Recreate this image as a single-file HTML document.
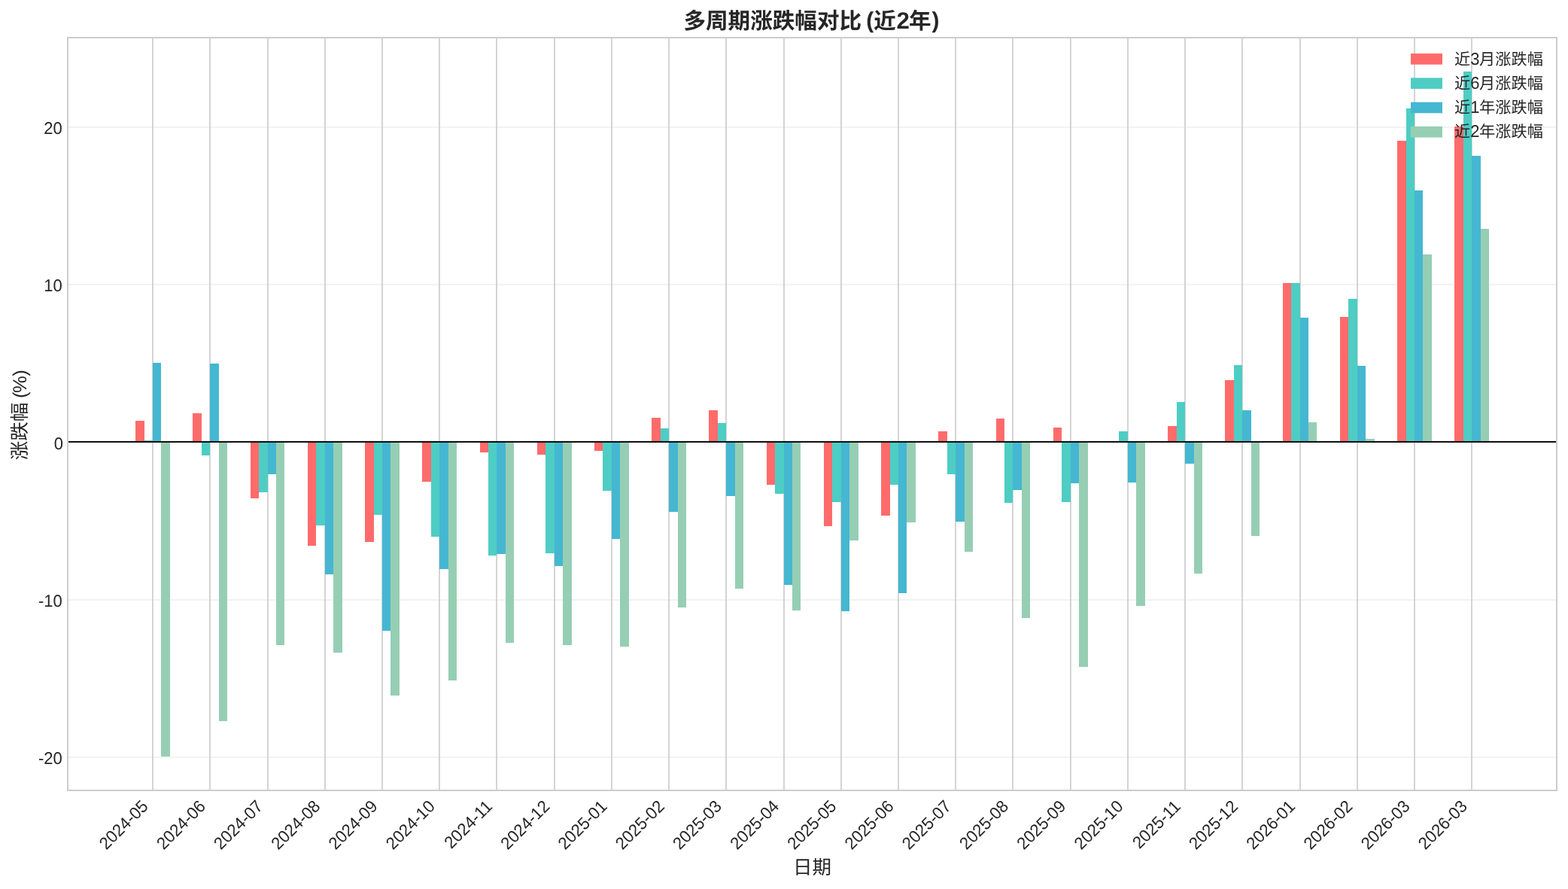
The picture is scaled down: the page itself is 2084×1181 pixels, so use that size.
<!DOCTYPE html>
<html lang="zh"><head><meta charset="utf-8"><title>多周期涨跌幅对比 (近2年)</title>
<style>html,body{margin:0;padding:0;background:#fff}body{width:2084px;height:1181px;overflow:hidden}svg{display:block;will-change:transform}text{font-family:"Liberation Sans","Noto Sans CJK SC",sans-serif;fill:#262626;text-rendering:geometricPrecision}</style>
</head><body>
<svg width="2084" height="1181" viewBox="0 0 2084 1181" role="img" aria-label="多周期涨跌幅对比 (近2年)">
<rect width="2084" height="1181" fill="#fff"/>
<g fill="#d4d4d4">
<rect x="202" y="50" width="2" height="1000"/>
<rect x="278" y="50" width="2" height="1000"/>
<rect x="355" y="50" width="2" height="1000"/>
<rect x="431" y="50" width="2" height="1000"/>
<rect x="507" y="50" width="2" height="1000"/>
<rect x="583" y="50" width="2" height="1000"/>
<rect x="659" y="50" width="2" height="1000"/>
<rect x="736" y="50" width="2" height="1000"/>
<rect x="812" y="50" width="2" height="1000"/>
<rect x="888" y="50" width="2" height="1000"/>
<rect x="964" y="50" width="2" height="1000"/>
<rect x="1041" y="50" width="2" height="1000"/>
<rect x="1117" y="50" width="2" height="1000"/>
<rect x="1193" y="50" width="2" height="1000"/>
<rect x="1269" y="50" width="2" height="1000"/>
<rect x="1345" y="50" width="2" height="1000"/>
<rect x="1422" y="50" width="2" height="1000"/>
<rect x="1498" y="50" width="2" height="1000"/>
<rect x="1574" y="50" width="2" height="1000"/>
<rect x="1650" y="50" width="2" height="1000"/>
<rect x="1727" y="50" width="2" height="1000"/>
<rect x="1803" y="50" width="2" height="1000"/>
<rect x="1879" y="50" width="2" height="1000"/>
<rect x="1955" y="50" width="2" height="1000"/>
</g>
<g fill="#cccccc" fill-opacity="0.25">
<rect x="90" y="168" width="1979" height="2"/>
<rect x="90" y="377" width="1979" height="2"/>
<rect x="90" y="796" width="1979" height="2"/>
<rect x="90" y="1005" width="1979" height="2"/>
</g>
<g fill="#FF6B6B">
<rect x="180" y="559" width="12" height="28"/>
<rect x="256" y="549" width="12" height="38"/>
<rect x="333" y="587" width="11" height="75"/>
<rect x="409" y="587" width="11" height="138"/>
<rect x="485" y="587" width="12" height="133"/>
<rect x="561" y="587" width="12" height="53"/>
<rect x="638" y="587" width="11" height="14"/>
<rect x="714" y="587" width="11" height="17"/>
<rect x="790" y="587" width="11" height="12"/>
<rect x="866" y="555" width="12" height="32"/>
<rect x="942" y="545" width="12" height="42"/>
<rect x="1019" y="587" width="11" height="57"/>
<rect x="1095" y="587" width="11" height="112"/>
<rect x="1171" y="587" width="12" height="98"/>
<rect x="1247" y="573" width="12" height="14"/>
<rect x="1324" y="556" width="11" height="31"/>
<rect x="1400" y="568" width="11" height="19"/>
<rect x="1552" y="566" width="12" height="21"/>
<rect x="1628" y="505" width="12" height="82"/>
<rect x="1705" y="376" width="11" height="211"/>
<rect x="1781" y="421" width="11" height="166"/>
<rect x="1857" y="187" width="12" height="400"/>
<rect x="1933" y="168" width="12" height="419"/>
</g>
<g fill="#4ECDC4">
<rect x="192" y="585" width="11" height="2"/>
<rect x="268" y="587" width="11" height="18"/>
<rect x="344" y="587" width="12" height="67"/>
<rect x="420" y="587" width="12" height="111"/>
<rect x="497" y="587" width="11" height="97"/>
<rect x="573" y="587" width="11" height="126"/>
<rect x="649" y="587" width="11" height="151"/>
<rect x="725" y="587" width="12" height="148"/>
<rect x="801" y="587" width="12" height="65"/>
<rect x="878" y="569" width="11" height="18"/>
<rect x="954" y="562" width="11" height="25"/>
<rect x="1030" y="587" width="12" height="69"/>
<rect x="1106" y="587" width="12" height="80"/>
<rect x="1183" y="587" width="11" height="57"/>
<rect x="1259" y="587" width="11" height="43"/>
<rect x="1335" y="587" width="11" height="81"/>
<rect x="1411" y="587" width="12" height="80"/>
<rect x="1487" y="573" width="12" height="14"/>
<rect x="1564" y="534" width="11" height="53"/>
<rect x="1640" y="485" width="11" height="102"/>
<rect x="1716" y="376" width="12" height="211"/>
<rect x="1792" y="397" width="12" height="190"/>
<rect x="1869" y="144" width="11" height="443"/>
<rect x="1945" y="95" width="11" height="492"/>
</g>
<g fill="#45B7D1">
<rect x="203" y="482" width="11" height="105"/>
<rect x="279" y="483" width="12" height="104"/>
<rect x="356" y="587" width="11" height="43"/>
<rect x="432" y="587" width="11" height="176"/>
<rect x="508" y="587" width="11" height="251"/>
<rect x="584" y="587" width="12" height="169"/>
<rect x="660" y="587" width="12" height="149"/>
<rect x="737" y="587" width="11" height="165"/>
<rect x="813" y="587" width="11" height="129"/>
<rect x="889" y="587" width="12" height="93"/>
<rect x="965" y="587" width="12" height="72"/>
<rect x="1042" y="587" width="11" height="190"/>
<rect x="1118" y="587" width="11" height="225"/>
<rect x="1194" y="587" width="11" height="201"/>
<rect x="1270" y="587" width="12" height="106"/>
<rect x="1346" y="587" width="12" height="64"/>
<rect x="1423" y="587" width="11" height="55"/>
<rect x="1499" y="587" width="11" height="54"/>
<rect x="1575" y="587" width="12" height="29"/>
<rect x="1651" y="545" width="12" height="42"/>
<rect x="1728" y="422" width="11" height="165"/>
<rect x="1804" y="486" width="11" height="101"/>
<rect x="1880" y="253" width="11" height="334"/>
<rect x="1956" y="207" width="12" height="380"/>
</g>
<g fill="#96CEB4">
<rect x="214" y="587" width="12" height="418"/>
<rect x="291" y="587" width="11" height="371"/>
<rect x="367" y="587" width="11" height="270"/>
<rect x="443" y="587" width="12" height="280"/>
<rect x="519" y="587" width="12" height="337"/>
<rect x="596" y="587" width="11" height="317"/>
<rect x="672" y="587" width="11" height="267"/>
<rect x="748" y="587" width="12" height="270"/>
<rect x="824" y="587" width="12" height="272"/>
<rect x="901" y="587" width="11" height="220"/>
<rect x="977" y="587" width="11" height="195"/>
<rect x="1053" y="587" width="11" height="224"/>
<rect x="1129" y="587" width="12" height="131"/>
<rect x="1205" y="587" width="12" height="107"/>
<rect x="1282" y="587" width="11" height="146"/>
<rect x="1358" y="587" width="11" height="234"/>
<rect x="1434" y="587" width="12" height="299"/>
<rect x="1510" y="587" width="12" height="218"/>
<rect x="1587" y="587" width="11" height="175"/>
<rect x="1663" y="587" width="11" height="125"/>
<rect x="1739" y="561" width="11" height="26"/>
<rect x="1815" y="583" width="12" height="4"/>
<rect x="1891" y="338" width="12" height="249"/>
<rect x="1968" y="304" width="11" height="283"/>
</g>
<rect x="90" y="586" width="1979" height="2" fill="#0f0f0f"/>
<g fill="#cccccc">
<rect x="89" y="49" width="2" height="1002"/>
<rect x="2068" y="49" width="2" height="1002"/>
<rect x="89" y="49" width="1981" height="2"/>
<rect x="89" y="1049" width="1981" height="2"/>
</g>
<g font-size="22.00" text-anchor="end">
<text transform="translate(82.7 178) scale(1 1.035)">20</text>
<text transform="translate(82.7 387) scale(1 1.035)">10</text>
<text transform="translate(84.1 597) scale(1 1.035)">0</text>
<text transform="translate(82.7 806) scale(1 1.035)">-10</text>
<text transform="translate(82.7 1015) scale(1 1.035)">-20</text>
</g>
<g font-size="22.00" text-anchor="end">
<text transform="translate(198.26 1072.60) rotate(-45) scale(1 1.035)">2024-05</text>
<text transform="translate(274.49 1072.60) rotate(-45) scale(1 1.035)">2024-06</text>
<text transform="translate(350.71 1072.60) rotate(-45) scale(1 1.035)">2024-07</text>
<text transform="translate(426.94 1072.60) rotate(-45) scale(1 1.035)">2024-08</text>
<text transform="translate(503.16 1072.60) rotate(-45) scale(1 1.035)">2024-09</text>
<text transform="translate(579.39 1072.60) rotate(-45) scale(1 1.035)">2024-10</text>
<text transform="translate(655.62 1072.60) rotate(-45) scale(1 1.035)">2024-11</text>
<text transform="translate(731.84 1072.60) rotate(-45) scale(1 1.035)">2024-12</text>
<text transform="translate(808.07 1072.60) rotate(-45) scale(1 1.035)">2025-01</text>
<text transform="translate(884.29 1072.60) rotate(-45) scale(1 1.035)">2025-02</text>
<text transform="translate(960.52 1072.60) rotate(-45) scale(1 1.035)">2025-03</text>
<text transform="translate(1036.75 1072.60) rotate(-45) scale(1 1.035)">2025-04</text>
<text transform="translate(1112.97 1072.60) rotate(-45) scale(1 1.035)">2025-05</text>
<text transform="translate(1189.20 1072.60) rotate(-45) scale(1 1.035)">2025-06</text>
<text transform="translate(1265.42 1072.60) rotate(-45) scale(1 1.035)">2025-07</text>
<text transform="translate(1341.65 1072.60) rotate(-45) scale(1 1.035)">2025-08</text>
<text transform="translate(1417.88 1072.60) rotate(-45) scale(1 1.035)">2025-09</text>
<text transform="translate(1494.10 1072.60) rotate(-45) scale(1 1.035)">2025-10</text>
<text transform="translate(1570.33 1072.60) rotate(-45) scale(1 1.035)">2025-11</text>
<text transform="translate(1646.55 1072.60) rotate(-45) scale(1 1.035)">2025-12</text>
<text transform="translate(1722.78 1072.60) rotate(-45) scale(1 1.035)">2026-01</text>
<text transform="translate(1799.01 1072.60) rotate(-45) scale(1 1.035)">2026-02</text>
<text transform="translate(1875.23 1072.60) rotate(-45) scale(1 1.035)">2026-03</text>
<text transform="translate(1951.46 1072.60) rotate(-45) scale(1 1.035)">2026-03</text>
</g>
<text x="1079.4" y="1161" font-size="25.5" text-anchor="middle">日期</text>
<g transform="translate(35.8 611.3) rotate(-90)">
<text x="0" y="-0.6" font-size="25.5">涨跌幅</text>
<g font-size="25.5"><text x="82.3" y="-0.6">(</text><text x="89.4" y="-0.6">%</text><text x="111.6" y="-0.6">)</text></g>
</g>
<text x="908.4" y="38.1" font-size="29.6" font-weight="bold">多周期涨跌幅对比</text>
<g font-weight="bold" font-size="31.30">
<text x="1151.20" y="36.6" font-size="30">(</text>
<text x="1191.60" y="38.1">2</text>
<text x="1238.50" y="36.6" font-size="30">)</text>
</g>
<text x="1161.3" y="38.1" font-size="29.6" font-weight="bold">近</text>
<text x="1208.0" y="38.1" font-size="29.6" font-weight="bold">年</text>
<rect x="1875" y="71.1" width="42" height="14.6" fill="#FF6B6B"/>
<text x="1933.0" y="85.5" font-size="21.2">近</text>
<text transform="translate(1954.30 85.50) scale(1 1.035)" font-size="22.00">3</text>
<text x="1966.1" y="85.5" font-size="21.2">月涨跌幅</text>
<rect x="1875" y="103.4" width="42" height="14.6" fill="#4ECDC4"/>
<text x="1933.0" y="117.8" font-size="21.2">近</text>
<text transform="translate(1954.30 117.80) scale(1 1.035)" font-size="22.00">6</text>
<text x="1966.1" y="117.8" font-size="21.2">月涨跌幅</text>
<rect x="1875" y="135.7" width="42" height="14.6" fill="#45B7D1"/>
<text x="1933.0" y="150.1" font-size="21.2">近</text>
<text transform="translate(1954.30 150.10) scale(1 1.035)" font-size="22.00">1</text>
<text x="1966.1" y="150.1" font-size="21.2">年涨跌幅</text>
<rect x="1875" y="168.0" width="42" height="14.6" fill="#96CEB4"/>
<text x="1933.0" y="182.4" font-size="21.2">近</text>
<text transform="translate(1954.30 182.40) scale(1 1.035)" font-size="22.00">2</text>
<text x="1966.1" y="182.4" font-size="21.2">年涨跌幅</text>
</svg></body></html>
